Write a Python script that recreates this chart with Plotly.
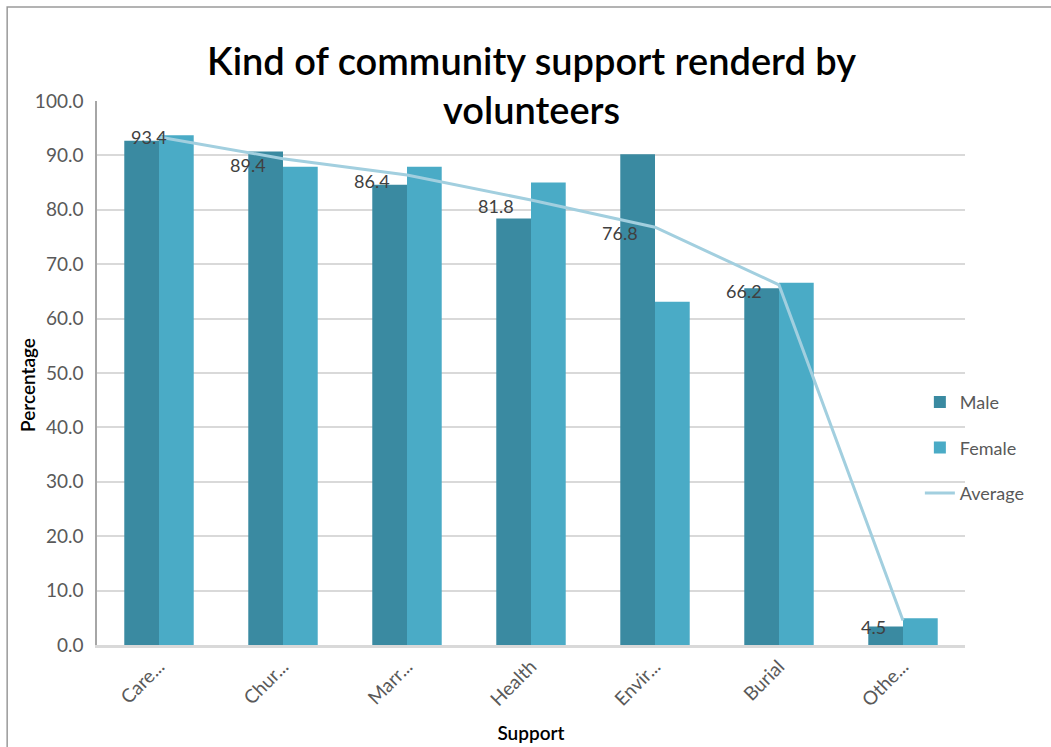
import plotly.graph_objects as go

categories = ["Care...", "Chur...", "Marr...", "Health", "Envir...", "Burial", "Othe..."]
male = [92.7, 90.7, 84.6, 78.4, 90.2, 65.6, 3.4]
female = [93.7, 87.9, 87.9, 85.0, 63.1, 66.6, 4.9]
average = [93.4, 89.4, 86.4, 81.8, 76.8, 66.2, 4.5]
y_ticks = [0, 10, 20, 30, 40, 50, 60, 70, 80, 90, 100]

FONT = "Lato"
TXT = "#595959"

fig = go.Figure()
fig.add_trace(go.Bar(x=categories, y=male, name="Male", marker=dict(color="#3a8aa1", line=dict(width=0)),
                     legendgroup="m"))
fig.add_trace(go.Bar(x=categories, y=female, name="Female", marker=dict(color="#4aabc6", line=dict(width=0)),
                     legendgroup="f"))
fig.add_trace(go.Scatter(x=categories, y=average, name="Average", mode="lines",
                         line=dict(color="#a2cfdf", width=3), legendgroup="a"))

label_anns = []
for i, (c, v) in enumerate(zip(categories, average)):
    label_anns.append(dict(
        x=c, y=v, xref="x", yref="y", text=f"{v:.1f}", showarrow=False,
        xanchor="right", yanchor="middle", xshift=(10 if i == 0 else -15), yshift=(0 if i == 0 else -6),
        font=dict(family=FONT, size=18, color="#404040")))

fig.update_layout(
    width=1051, height=747,
    margin=dict(l=97, r=86, t=101, b=102, autoexpand=False),
    paper_bgcolor="white", plot_bgcolor="white",
    barmode="group", bargap=0.44, bargroupgap=0,
    font=dict(family=FONT, size=18, color=TXT),
    showlegend=True,
    legend=dict(x=0.948, xanchor="left", y=0.48, yanchor="top",
                font=dict(family=FONT, size=18, color=TXT),
                tracegroupgap=19, traceorder="grouped", bgcolor="rgba(0,0,0,0)"),
    annotations=label_anns + [
        dict(text="Kind of community support renderd by<br>volunteers", x=0.5, y=1.03,
             xref="paper", yref="paper", xanchor="center", yanchor="middle", showarrow=False,
             font=dict(family=FONT, size=38, color="#000000", weight=600)),
        dict(text="Percentage", x=-0.0795, y=0.478, xref="paper", yref="paper",
             xanchor="center", yanchor="middle", textangle=-90, showarrow=False,
             font=dict(family=FONT, size=19, color="#000000", weight=600)),
    ],
    shapes=[
        dict(type="rect", xref="paper", yref="paper", x0=-0.1035, y0=-0.3, x1=1.2, y1=1.173,
             line=dict(color="#9a9a9a", width=1.5), layer="below"),
    ],
)

fig.update_xaxes(
    tickangle=-45, tickfont=dict(family=FONT, size=19, color=TXT),
    showline=True, linecolor="#d9d9d9", linewidth=3, ticks="",
    title=dict(text="Support", font=dict(family=FONT, size=19, color="#000000", weight=600), standoff=18),
)
fig.update_yaxes(
    range=[0, 100], tickvals=y_ticks, tickformat=".1f",
    tickfont=dict(family=FONT, size=19, color=TXT),
    showgrid=True, gridcolor="#d9d9d9", gridwidth=2,
    showline=True, linecolor="#a6a6a6", linewidth=1.5, ticks="",
    zeroline=False, ticklabelstandoff=8,
)

fig.write_html("out.html")
